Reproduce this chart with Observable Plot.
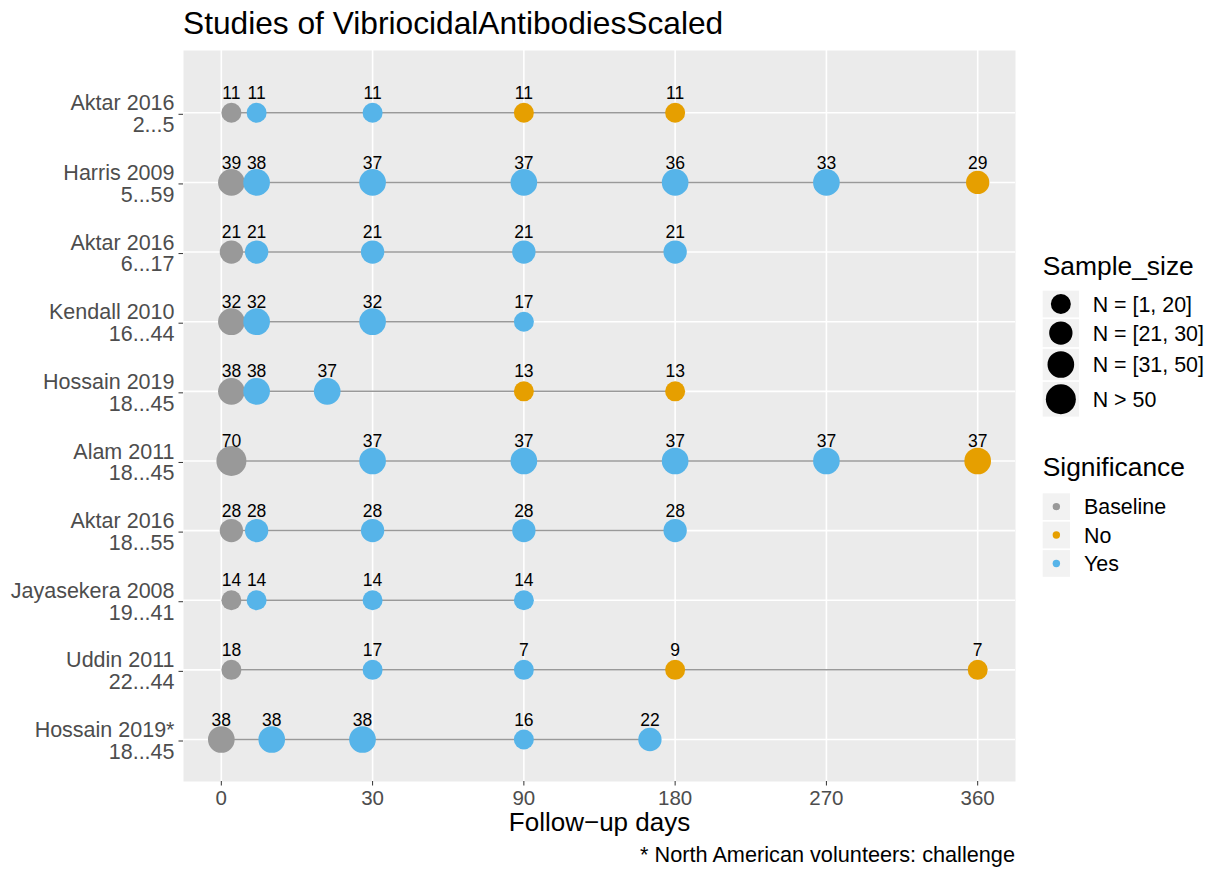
<!DOCTYPE html>
<html>
<head>
<meta charset="utf-8">
<script src="https://cdn.jsdelivr.net/npm/d3@7"></script>
<script src="https://cdn.jsdelivr.net/npm/@observablehq/plot@0.6"></script>
<style>
  body { margin: 0; background: #fff; }
  #wrap { position: relative; width: 1214px; height: 869px; overflow: hidden; font-family: "Liberation Sans", Arial, Helvetica, sans-serif; }
  #wrap > svg { position: absolute; left: 0; top: 0; }
</style>
</head>
<body>
<div id="wrap"></div>
<script>
// ---------- data ----------
const studies = [
  "Aktar 2016\n2...5",
  "Harris 2009\n5...59",
  "Aktar 2016\n6...17",
  "Kendall 2010\n16...44",
  "Hossain 2019\n18...45",
  "Alam 2011\n18...45",
  "Aktar 2016\n18...55",
  "Jayasekera 2008\n19...41",
  "Uddin 2011\n22...44",
  "Hossain 2019*\n18...45"
];
const followUpDays = [
  [2, 7, 30, 90, 180],
  [2, 7, 30, 90, 180, 270, 360],
  [2, 7, 30, 90, 180],
  [2, 7, 30, 90],
  [2, 7, 21, 90, 180],
  [2, 30, 90, 180, 270, 360],
  [2, 7, 30, 90, 180],
  [2, 7, 30, 90],
  [2, 30, 90, 180, 360],
  [0, 10, 28, 90, 165]
];
const sampleSizes = [
  [11, 11, 11, 11, 11],
  [39, 38, 37, 37, 36, 33, 29],
  [21, 21, 21, 21, 21],
  [32, 32, 32, 17],
  [38, 38, 37, 13, 13],
  [70, 37, 37, 37, 37, 37],
  [28, 28, 28, 28, 28],
  [14, 14, 14, 14],
  [18, 17, 7, 9, 7],
  [38, 38, 38, 16, 22]
];
const significance = [
  ["Baseline", "Yes", "Yes", "No", "No"],
  ["Baseline", "Yes", "Yes", "Yes", "Yes", "Yes", "No"],
  ["Baseline", "Yes", "Yes", "Yes", "Yes"],
  ["Baseline", "Yes", "Yes", "Yes"],
  ["Baseline", "Yes", "Yes", "No", "No"],
  ["Baseline", "Yes", "Yes", "Yes", "Yes", "No"],
  ["Baseline", "Yes", "Yes", "Yes", "Yes"],
  ["Baseline", "Yes", "Yes", "Yes"],
  ["Baseline", "Yes", "Yes", "No", "No"],
  ["Baseline", "Yes", "Yes", "Yes", "Yes"]
];
const dayBreaks = [0, 30, 90, 180, 270, 360];
const sizeBreaks = [20, 30, 50];
const sizeLabels = ["N = [1, 20]", "N = [21, 30]", "N = [31, 50]", "N > 50"];
const sigLevels = ["Baseline", "No", "Yes"];
const sigColors = ["#999999", "#E69F00", "#56B4E9"];
const titleText = "Studies of VibriocidalAntibodiesScaled";
const xTitle = "Follow\u2212up days";
const captionText = "* North American volunteers: challenge";

// ---------- table ----------
const points = studies.flatMap((s, i) => followUpDays[i].map((d, j) => ({
  study: s,
  day: d,
  n: sampleSizes[i][j],
  sizeClass: d3.bisectLeft(sizeBreaks, sampleSizes[i][j]),
  sig: significance[i][j]
})));

// ---------- layout ----------
const W = 1214, H = 869;
const mL = 183, mR = 199, mT = 50, mB = 88;
const frameW = W - mL - mR;
const step = frameW / (dayBreaks.length - 1 + 0.5);
const xRange = dayBreaks.map((_, i) => mL + step * (0.25 + i));
const radiusRange = [10, 15];
const font = "Liberation Sans, Arial, Helvetica, sans-serif";

const chart = Plot.plot({
  width: W, height: H,
  marginLeft: mL, marginRight: mR, marginTop: mT, marginBottom: mB,
  style: { fontFamily: font, fontSize: "21px", background: "none", color: "black", overflow: "visible" },
  x: { type: "linear", domain: dayBreaks, range: xRange },
  y: { type: "point", domain: studies, padding: 0, round: false, insetTop: 62.3, insetBottom: 42 },
  r: { type: "linear", domain: [0, 3], range: radiusRange },
  color: { type: "ordinal", domain: sigLevels, range: sigColors },
  marks: [
    Plot.frame({ fill: "#EBEBEB", stroke: "none" }),
    Plot.gridX({ ticks: dayBreaks, stroke: "white", strokeOpacity: 1, strokeWidth: 1.6 }),
    Plot.gridY({ stroke: "white", strokeOpacity: 1, strokeWidth: 1.6 }),
    Plot.axisX({ ticks: dayBreaks, tickFormat: d => String(d), tickSize: 4.5, tickPadding: 4.5, stroke: "#333333", fill: "#4D4D4D", fontSize: 20.5, label: null }),
    Plot.axisY({ tickSize: 4.5, tickPadding: 4.5, stroke: "#333333", fill: "#4D4D4D", fontSize: 21.5, lineHeight: 1.01, dy: 1.5, label: null }),
    Plot.line(points, { x: "day", y: "study", z: "study", stroke: "#999999", strokeWidth: 1.5 }),
    Plot.dot(points, { x: "day", y: "study", r: "sizeClass", fill: "sig" }),
    Plot.text(points, { x: "day", y: "study", text: d => String(d.n), dy: -19.5, fontSize: 17.5, fill: "black" }),
    Plot.text([xTitle], { text: d => d, frameAnchor: "bottom", lineAnchor: "middle", dy: 41.2, fontSize: 26, fill: "black" })
  ]
});

const wrap = document.getElementById("wrap");
wrap.appendChild(chart);

// ---------- title, caption, legends ----------
const ov = d3.select(wrap).append("svg")
  .attr("width", W).attr("height", H)
  .style("font-family", font);

ov.append("text").attr("x", mL).attr("y", 34).attr("font-size", 31.7).attr("fill", "black").text(titleText);
ov.append("text").attr("x", W - mR).attr("y", 862).attr("text-anchor", "end").attr("font-size", 21.7).attr("fill", "black").text(captionText);

// size legend
const rScale = d3.scaleLinear().domain([0, 3]).range(radiusRange);
const legX = 1042.7;
ov.append("text").attr("x", legX).attr("y", 274.5).attr("font-size", 26.4).attr("fill", "black").text("Sample_size");
let yk = 290.7;
sizeLabels.forEach((lab, i) => {
  const r = rScale(i);
  const h = Math.max(26.7, 2 * r + 4.7);
  const kw = 36.3;
  ov.append("rect").attr("x", legX).attr("y", yk).attr("width", kw).attr("height", h).attr("fill", "#F2F2F2");
  ov.append("circle").attr("cx", legX + kw / 2).attr("cy", yk + h / 2).attr("r", r).attr("fill", "black");
  ov.append("text").attr("x", legX + kw + 13.7).attr("y", yk + h / 2).attr("dy", "0.35em").attr("font-size", 21.4).attr("fill", "black").text(lab);
  yk += h + 1.7;
});

// significance legend
ov.append("text").attr("x", legX).attr("y", 475.7).attr("font-size", 26.4).attr("fill", "black").text("Significance");
yk = 493.3;
sigLevels.forEach((lab, i) => {
  const kw = 27.3, h = 26.7;
  ov.append("rect").attr("x", legX).attr("y", yk).attr("width", kw).attr("height", h).attr("fill", "#F2F2F2");
  ov.append("circle").attr("cx", legX + kw / 2).attr("cy", yk + h / 2).attr("r", 3.7).attr("fill", sigColors[i]);
  ov.append("text").attr("x", legX + kw + 14).attr("y", yk + h / 2).attr("dy", "0.35em").attr("font-size", 21.4).attr("fill", "black").text(lab);
  yk += h + 1.7;
});
</script>
</body>
</html>
